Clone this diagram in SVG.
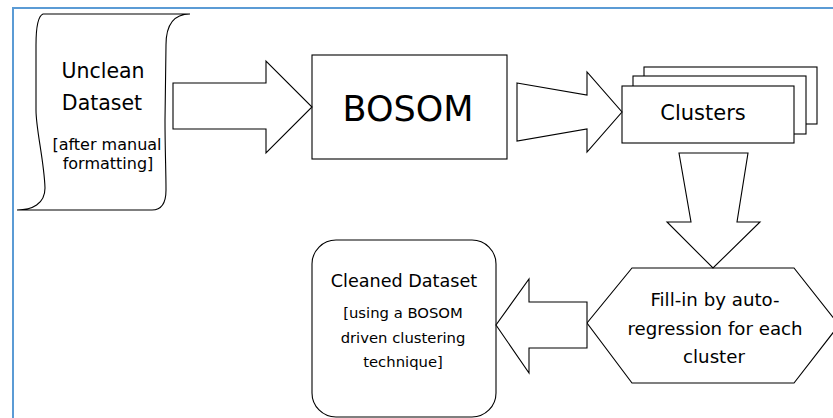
<svg xmlns="http://www.w3.org/2000/svg" width="833" height="418" viewBox="0 0 833 418">
<style>
.s{fill:#fff;stroke:#000;stroke-width:1.1}
.t{font-family:"DejaVu Sans",sans-serif;fill:#000;text-anchor:middle}
</style>
<rect x="0" y="0" width="833" height="418" fill="#fff"/>
<rect x="13" y="8" width="830" height="420" fill="none" stroke="#5b9bd5" stroke-width="2"/>
<g id="unclean">
<path class="s" d="M43,14 L190,14 C175,14 166,24 166,45 L165,120 C165,150 166,170 166,190 C166,204 161,210 152,210 L17,210 C32,210 45,204 45,188 C44,160 36,130 36,110 L36,45 C36,25 38,16 43,14 Z"/>
<text class="t" x="103" y="78" font-size="20.5">Unclean</text>
<text class="t" x="102" y="110" font-size="20.5">Dataset</text>
<text class="t" x="107" y="150" font-size="16">[after manual</text>
<text class="t" x="108" y="169" font-size="16">formatting]</text>
</g>
<g id="bosom">
<rect class="s" x="312" y="55" width="195" height="104"/>
<text class="t" x="408" y="121" font-size="35">BOSOM</text>
</g>
<g id="clusters">
<rect class="s" x="644" y="67" width="173" height="57"/>
<rect class="s" x="633" y="76" width="173" height="58"/>
<rect class="s" x="622" y="86" width="172" height="57"/>
<text class="t" x="703" y="120" font-size="21">Clusters</text>
</g>
<g id="fillin">
<path class="s" d="M632,268 L794,268 L839,325 L794,383 L632,383 L587,323 Z"/>
<text class="t" x="715" y="306" font-size="18.2">Fill-in by auto-</text>
<text class="t" x="715" y="335" font-size="18.2">regression for each</text>
<text class="t" x="714" y="363" font-size="18.2">cluster</text>
</g>
<g id="cleaned">
<rect class="s" x="312" y="240" width="184" height="177" rx="24" ry="24"/>
<text class="t" x="404" y="287" font-size="17.6">Cleaned Dataset</text>
<text class="t" x="403" y="318" font-size="14.8">[using a BOSOM</text>
<text class="t" x="403" y="343" font-size="14.8">driven clustering</text>
<text class="t" x="403" y="367" font-size="14.8">technique]</text>
</g>
<g id="connectors">
<path class="s" d="M173,83 L266,83 L266,61 L312,107 L266,153 L266,129 L173,129 Z"/>
<path class="s" d="M517,83 L587,95 L587,72 L622,112 L587,152 L587,129 L517,141 Z"/>
<path class="s" d="M679,153 L748,153 L737,222 L760,222 L713,268 L667,222 L691,222 Z"/>
<path class="s" d="M587,302 L587,348 L529,348 L529,373 L496,325 L529,279 L529,302 Z"/>
</g>
</svg>
